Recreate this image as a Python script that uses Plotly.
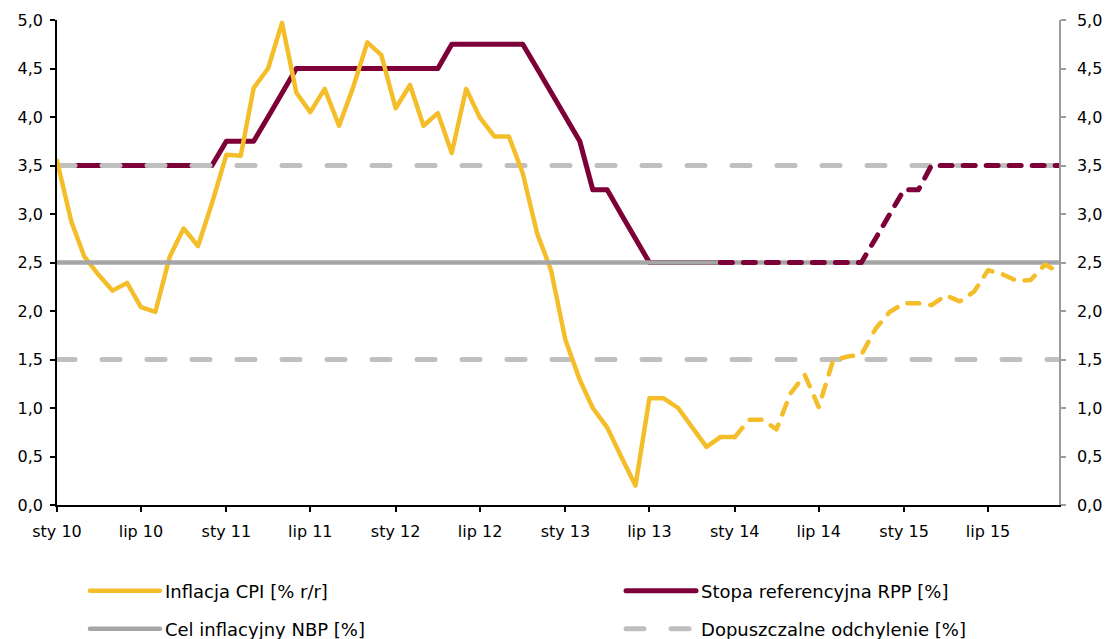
import plotly.graph_objects as go
import pandas as pd

# ---------------- data ----------------
months = pd.date_range("2010-01-01", "2015-12-01", freq="MS")

# CPI y/y, actual: Jan 2010 - Jan 2014
cpi_actual = [
    3.55, 2.92, 2.56, 2.37, 2.21, 2.29, 2.04, 1.99, 2.56, 2.85, 2.67, 3.11,
    3.61, 3.60, 4.30, 4.50, 4.97, 4.25, 4.05, 4.29, 3.91, 4.30, 4.77, 4.64,
    4.09, 4.33, 3.91, 4.04, 3.63, 4.29, 3.99, 3.80, 3.80, 3.42, 2.80, 2.42,
    1.70, 1.29, 1.00, 0.80, 0.50, 0.20, 1.10, 1.10, 1.00, 0.80, 0.60, 0.70,
    0.70,
]
# CPI y/y, forecast: Jan 2014 - Dec 2015
cpi_forecast = [
    0.70, 0.88, 0.88, 0.78, 1.15, 1.34, 1.01, 1.49, 1.53, 1.55, 1.82, 1.99,
    2.08, 2.08, 2.06, 2.16, 2.10, 2.20, 2.42, 2.38, 2.31, 2.32, 2.48, 2.40,
]
# NBP reference rate, actual: Jan 2010 - Dec 2013
rpp_actual = [
    3.50, 3.50, 3.50, 3.50, 3.50, 3.50, 3.50, 3.50, 3.50, 3.50, 3.50, 3.50,
    3.75, 3.75, 3.75, 4.00, 4.25, 4.50, 4.50, 4.50, 4.50, 4.50, 4.50, 4.50,
    4.50, 4.50, 4.50, 4.50, 4.75, 4.75, 4.75, 4.75, 4.75, 4.75, 4.50, 4.25,
    4.00, 3.75, 3.25, 3.25, 3.00, 2.75, 2.50, 2.50, 2.50, 2.50, 2.50, 2.50,
]
# NBP reference rate, forecast: Dec 2013 - Dec 2015
rpp_forecast = [
    2.50,
    2.50, 2.50, 2.50, 2.50, 2.50, 2.50, 2.50, 2.50, 2.50, 2.50, 2.75, 3.00,
    3.25, 3.25, 3.50, 3.50, 3.50, 3.50, 3.50, 3.50, 3.50, 3.50, 3.50, 3.50,
]
target_level = 2.5
band_upper_level = 3.5
band_lower_level = 1.5

tick_dates = pd.date_range("2010-01-01", "2015-07-01", freq="6MS")
tick_labels = ["sty 10", "lip 10", "sty 11", "lip 11", "sty 12", "lip 12",
               "sty 13", "lip 13", "sty 14", "lip 14", "sty 15", "lip 15"]
y_ticks = [0.0, 0.5, 1.0, 1.5, 2.0, 2.5, 3.0, 3.5, 4.0, 4.5, 5.0]

# ---------------- styles ----------------
YELLOW = "#F4BE2A"
MAROON = "#7E0038"
GRAY = "#A6A6A6"
LIGHTGRAY = "#BFBFBF"
FONT = "DejaVu Sans"

x_actual_cpi = list(months[:len(cpi_actual)])
x_fore_cpi = list(months[len(months) - len(cpi_forecast):])
x_actual_rpp = list(months[:len(rpp_actual)])
x_fore_rpp = list(months[len(months) - len(rpp_forecast):])

target = [target_level] * len(months)
band_x = list(months) + [None] + list(months)
band_y = [band_upper_level] * len(months) + [None] + [band_lower_level] * len(months)

fig = go.Figure()

fig.add_trace(go.Scatter(
    x=x_actual_rpp, y=rpp_actual, mode="lines", name="Stopa referencyjna RPP [%]",
    line=dict(color=MAROON, width=5), legend="legend2"))
fig.add_trace(go.Scatter(
    x=band_x, y=band_y, mode="lines", name="Dopuszczalne odchylenie [%]",
    line=dict(color=LIGHTGRAY, width=5, dash="18px,27px"), connectgaps=False,
    legend="legend4"))
fig.add_trace(go.Scatter(
    x=x_actual_cpi, y=cpi_actual, mode="lines", name="Inflacja CPI [% r/r]",
    line=dict(color=YELLOW, width=4.5), legend="legend"))
fig.add_trace(go.Scatter(
    x=list(months), y=target, mode="lines", name="Cel inflacyjny NBP [%]",
    line=dict(color=GRAY, width=4.5), legend="legend3"))
fig.add_trace(go.Scatter(
    x=x_fore_rpp, y=rpp_forecast, mode="lines", showlegend=False,
    line=dict(color=MAROON, width=5, dash="12px,11px")))
fig.add_trace(go.Scatter(
    x=x_fore_cpi, y=cpi_forecast, mode="lines", showlegend=False,
    line=dict(color=YELLOW, width=4.5, dash="12px,11px")))
# invisible trace to activate the right-hand axis
fig.add_trace(go.Scatter(
    x=[months[0]], y=[target_level], yaxis="y2", mode="lines",
    showlegend=False, hoverinfo="skip", line=dict(color="rgba(0,0,0,0)")))

axis_font = dict(family=FONT, size=16, color="#000000")
legend_font = dict(family=FONT, size=18, color="#000000")


def legend_box(x, y):
    return dict(orientation="h", x=x, y=y, xanchor="left", yanchor="middle",
                itemwidth=70, font=legend_font, bgcolor="rgba(0,0,0,0)",
                borderwidth=0)


fig.update_layout(
    width=1110, height=639,
    margin=dict(l=57, r=51, t=20, b=134, autoexpand=False),
    paper_bgcolor="white", plot_bgcolor="white",
    separators=", ",
    font=dict(family=FONT, size=16, color="#000000"),
    xaxis=dict(
        type="date", range=[months[0], months[-1]],
        tickmode="array", tickvals=list(tick_dates), ticktext=tick_labels,
        showgrid=False, zeroline=False, showline=True, linecolor="#000000", linewidth=1.5,
        ticks="outside", ticklen=5, tickwidth=1.5, tickcolor="#000000",
        ticklabelstandoff=6, tickfont=axis_font),
    yaxis=dict(
        range=[0, 5], tickmode="array", tickvals=y_ticks, tickformat=".1f",
        showgrid=False, zeroline=False, showline=True, linecolor="#000000", linewidth=1.5,
        ticks="outside", ticklen=5, tickwidth=1.5, tickcolor="#000000",
        ticklabelstandoff=4, tickfont=axis_font),
    yaxis2=dict(
        range=[0, 5], overlaying="y", side="right", tickmode="array",
        tickvals=y_ticks, tickformat=".1f",
        showgrid=False, zeroline=False, showline=True, linecolor="#9C9C9C", linewidth=1.5,
        ticks="outside", ticklen=5, tickwidth=1.5, tickcolor="#9C9C9C",
        ticklabelstandoff=8, tickfont=axis_font),
    legend=legend_box(0.0279, -0.1773),
    legend2=legend_box(0.5629, -0.1773),
    legend3=legend_box(0.0279, -0.2557),
    legend4=legend_box(0.5629, -0.2557),
    showlegend=True,
)

post = (
    "document.documentElement.style.margin='0';"
    "document.body.style.margin='0';"
    "document.body.style.overflow='hidden';"
    "document.querySelectorAll('path.js-line').forEach(function(p){"
    "p.style.strokeLinecap='round';p.style.strokeLinejoin='round';});"
)
fig.write_html("out.html", post_script=post, config={"displayModeBar": False})
